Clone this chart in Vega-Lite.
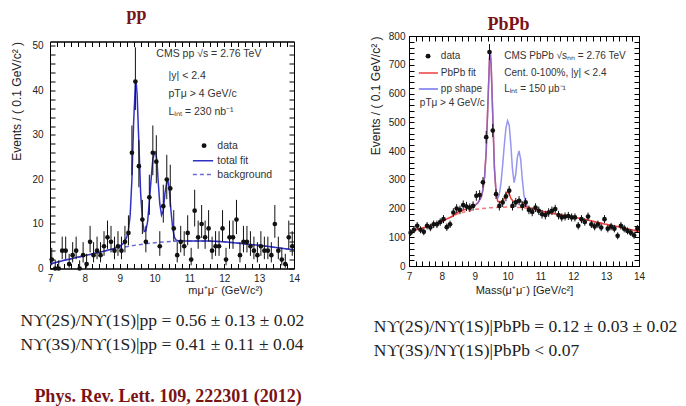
{
  "$schema": "https://vega.github.io/schema/vega-lite/v6.json",
  "background": "white",
  "padding": {"left": 10, "top": 4, "right": 0, "bottom": 0},
  "config": {
    "view": {"stroke": "black", "strokeWidth": 1},
    "font": "Liberation Sans",
    "axis": {"grid": false, "domainColor": "black", "tickColor": "black", "labelColor": "#222", "titleColor": "#222", "labelFont": "Liberation Sans", "titleFont": "Liberation Sans", "labelFontSize": 10, "titleFontSize": 12, "titleFontWeight": "normal", "labelFlush": false, "labelOverlap": false, "tickSize": -5, "tickWidth": 1}
  },
  "title": {"text": "Phys. Rev. Lett. 109, 222301 (2012)", "orient": "bottom", "anchor": "start", "font": "Liberation Serif", "fontSize": 18, "fontWeight": "bold", "color": "#7a1414", "offset": 29, "dx": 24},
  "resolve": {"scale": {"color": "independent", "strokeDash": "independent"}},
  "datasets": {
    "ppData": [
      {"x":7.05,"y":2,"lo":0.71,"hi":4.64},{"x":7.15,"y":0,"lo":0,"hi":1.84},{"x":7.25,"y":0,"lo":0,"hi":1.84},{"x":7.35,"y":4,"lo":2.09,"hi":7.16},{"x":7.45,"y":4,"lo":2.09,"hi":7.16},
      {"x":7.55,"y":1,"lo":0.17,"hi":3.3},{"x":7.65,"y":3,"lo":1.37,"hi":5.92},{"x":7.75,"y":4,"lo":2.09,"hi":7.16},{"x":7.85,"y":0,"lo":0,"hi":1.84},{"x":7.95,"y":3,"lo":1.37,"hi":5.92},
      {"x":8.05,"y":1,"lo":0.17,"hi":3.3},{"x":8.15,"y":6,"lo":3.62,"hi":9.58},{"x":8.25,"y":3,"lo":1.37,"hi":5.92},{"x":8.35,"y":4,"lo":2.09,"hi":7.16},{"x":8.45,"y":3,"lo":1.37,"hi":5.92},
      {"x":8.55,"y":5,"lo":2.84,"hi":8.38},{"x":8.65,"y":7,"lo":4.42,"hi":10.77},{"x":8.75,"y":6,"lo":3.62,"hi":9.58},{"x":8.85,"y":4,"lo":2.09,"hi":7.16},{"x":8.95,"y":5,"lo":2.84,"hi":8.38},
      {"x":9.05,"y":4,"lo":2.09,"hi":7.16},{"x":9.15,"y":6,"lo":3.62,"hi":9.58},{"x":9.25,"y":8,"lo":5.23,"hi":11.95},{"x":9.35,"y":26,"lo":20.96,"hi":32.13},{"x":9.45,"y":42,"lo":35.6,"hi":49.7},
      {"x":9.55,"y":23,"lo":18.24,"hi":28.84},{"x":9.65,"y":11,"lo":7.73,"hi":15.42},{"x":9.75,"y":6,"lo":3.62,"hi":9.58},{"x":9.85,"y":16,"lo":12.05,"hi":21.08},{"x":9.95,"y":26,"lo":20.96,"hi":32.13},
      {"x":10.05,"y":24,"lo":19.14,"hi":29.94},{"x":10.15,"y":5,"lo":2.84,"hi":8.38},{"x":10.25,"y":14,"lo":10.3,"hi":18.83},{"x":10.35,"y":20,"lo":15.57,"hi":25.54},{"x":10.45,"y":18,"lo":13.8,"hi":23.31},
      {"x":10.55,"y":9,"lo":6.06,"hi":13.11},{"x":10.65,"y":3,"lo":1.37,"hi":5.92},{"x":10.75,"y":6,"lo":3.62,"hi":9.58},{"x":10.85,"y":5,"lo":2.84,"hi":8.38},{"x":10.95,"y":8,"lo":5.23,"hi":11.95},
      {"x":11.05,"y":2,"lo":0.71,"hi":4.64},{"x":11.15,"y":13,"lo":9.44,"hi":17.7},{"x":11.25,"y":7,"lo":4.42,"hi":10.77},{"x":11.35,"y":10,"lo":6.89,"hi":14.27},{"x":11.45,"y":7,"lo":4.42,"hi":10.77},
      {"x":11.55,"y":9,"lo":6.06,"hi":13.11},{"x":11.65,"y":4,"lo":2.09,"hi":7.16},{"x":11.75,"y":5,"lo":2.84,"hi":8.38},{"x":11.85,"y":5,"lo":2.84,"hi":8.38},{"x":11.95,"y":9,"lo":6.06,"hi":13.11},
      {"x":12.05,"y":2,"lo":0.71,"hi":4.64},{"x":12.15,"y":7,"lo":4.42,"hi":10.77},{"x":12.25,"y":7,"lo":4.42,"hi":10.77},{"x":12.35,"y":11,"lo":7.73,"hi":15.42},{"x":12.45,"y":3,"lo":1.37,"hi":5.92},
      {"x":12.55,"y":6,"lo":3.62,"hi":9.58},{"x":12.65,"y":6,"lo":3.62,"hi":9.58},{"x":12.75,"y":5,"lo":2.84,"hi":8.38},{"x":12.85,"y":4,"lo":2.09,"hi":7.16},{"x":12.95,"y":3,"lo":1.37,"hi":5.92},
      {"x":13.05,"y":5,"lo":2.84,"hi":8.38},{"x":13.15,"y":4,"lo":2.09,"hi":7.16},{"x":13.25,"y":4,"lo":2.09,"hi":7.16},{"x":13.35,"y":3,"lo":1.37,"hi":5.92},{"x":13.45,"y":10,"lo":6.89,"hi":14.27},
      {"x":13.55,"y":4,"lo":2.09,"hi":7.16},{"x":13.65,"y":2,"lo":0.71,"hi":4.64},{"x":13.75,"y":1,"lo":0.17,"hi":3.3},{"x":13.85,"y":7,"lo":4.42,"hi":10.77},{"x":13.95,"y":5,"lo":2.84,"hi":8.38}
    ],
    "ppCurve": [
      {"s":"background","x":7.0,"y":1.0},{"s":"background","x":7.5,"y":2.0},{"s":"background","x":8.0,"y":2.9},{"s":"background","x":8.5,"y":3.8},{"s":"background","x":9.0,"y":4.6},{"s":"background","x":9.5,"y":5.3},{"s":"background","x":10.0,"y":5.8},{"s":"background","x":10.5,"y":6.1},{"s":"background","x":11.0,"y":6.2},{"s":"background","x":11.5,"y":6.2},{"s":"background","x":12.0,"y":6.0},{"s":"background","x":12.5,"y":5.6},{"s":"background","x":13.0,"y":5.2},{"s":"background","x":13.5,"y":4.7},{"s":"background","x":14.0,"y":4.2},
      {"s":"total fit","x":7.0,"y":1.0},{"s":"total fit","x":7.5,"y":2.0},{"s":"total fit","x":8.0,"y":2.9},{"s":"total fit","x":8.5,"y":3.8},{"s":"total fit","x":8.8,"y":4.4},{"s":"total fit","x":9.0,"y":5.0},{"s":"total fit","x":9.1,"y":5.6},{"s":"total fit","x":9.2,"y":7.0},{"s":"total fit","x":9.25,"y":8.5},{"s":"total fit","x":9.3,"y":12},{"s":"total fit","x":9.35,"y":20},{"s":"total fit","x":9.4,"y":33},{"s":"total fit","x":9.45,"y":41.5},{"s":"total fit","x":9.47,"y":42},{"s":"total fit","x":9.5,"y":39},{"s":"total fit","x":9.55,"y":28},{"s":"total fit","x":9.6,"y":17},{"s":"total fit","x":9.65,"y":11},{"s":"total fit","x":9.7,"y":8.3},{"s":"total fit","x":9.75,"y":8.5},{"s":"total fit","x":9.8,"y":10.5},{"s":"total fit","x":9.85,"y":15},{"s":"total fit","x":9.9,"y":20},{"s":"total fit","x":9.95,"y":24.5},{"s":"total fit","x":10.0,"y":26},{"s":"total fit","x":10.03,"y":26.2},{"s":"total fit","x":10.07,"y":24},{"s":"total fit","x":10.1,"y":20},{"s":"total fit","x":10.15,"y":14.5},{"s":"total fit","x":10.2,"y":12},{"s":"total fit","x":10.25,"y":13},{"s":"total fit","x":10.3,"y":17},{"s":"total fit","x":10.35,"y":19.5},{"s":"total fit","x":10.38,"y":19.8},{"s":"total fit","x":10.42,"y":18},{"s":"total fit","x":10.47,"y":13},{"s":"total fit","x":10.52,"y":9},{"s":"total fit","x":10.57,"y":7},{"s":"total fit","x":10.62,"y":6.4},{"s":"total fit","x":10.7,"y":6.2},{"s":"total fit","x":11.0,"y":6.2},{"s":"total fit","x":11.5,"y":6.2},{"s":"total fit","x":12.0,"y":6.0},{"s":"total fit","x":12.5,"y":5.6},{"s":"total fit","x":13.0,"y":5.2},{"s":"total fit","x":13.5,"y":4.7},{"s":"total fit","x":14.0,"y":4.2}
    ],
    "ppText": [
      {"x":10.05,"y":48.2,"t":"CMS pp √s = 2.76 TeV"},
      {"x":10.4,"y":43.3,"t":"|y| < 2.4"},
      {"x":10.4,"y":39.2,"t":"pTμ > 4 GeV/c"},
      {"x":10.4,"y":35.2,"t":"Lᵢₙₜ = 230 nb⁻¹"},
      {"x":11.8,"y":27.6,"t":"data"},
      {"x":11.8,"y":24.2,"t":"total fit"},
      {"x":11.8,"y":21.1,"t":"background"}
    ],
    "ppLegLine": [
      {"s":"total fit","x":11.1,"x2":11.68,"y":24.2},
      {"s":"background","x":11.1,"x2":11.68,"y":21.1}
    ],
    "ppLegPt": [{"x":11.42,"y":27.6}],
    "pbData": [
      {"x":7.05,"y":116,"e":12},{"x":7.15,"y":126,"e":12},{"x":7.25,"y":140,"e":13},{"x":7.35,"y":126,"e":12},{"x":7.45,"y":119,"e":12},
      {"x":7.55,"y":140,"e":13},{"x":7.65,"y":134,"e":13},{"x":7.75,"y":145,"e":13},{"x":7.85,"y":145,"e":13},{"x":7.95,"y":153,"e":13},
      {"x":8.05,"y":163,"e":14},{"x":8.15,"y":135,"e":13},{"x":8.25,"y":145,"e":13},{"x":8.35,"y":186,"e":15},{"x":8.45,"y":200,"e":15},
      {"x":8.55,"y":195,"e":15},{"x":8.65,"y":212,"e":16},{"x":8.75,"y":207,"e":16},{"x":8.85,"y":203,"e":15},{"x":8.95,"y":209,"e":16},
      {"x":9.05,"y":244,"e":17},{"x":9.15,"y":247,"e":17},{"x":9.25,"y":291,"e":18},{"x":9.35,"y":448,"e":22},{"x":9.45,"y":744,"e":28},
      {"x":9.55,"y":471,"e":23},{"x":9.65,"y":250,"e":17},{"x":9.75,"y":209,"e":16},{"x":9.85,"y":221,"e":16},{"x":9.95,"y":242,"e":17},
      {"x":10.05,"y":262,"e":17},{"x":10.15,"y":209,"e":16},{"x":10.25,"y":221,"e":16},{"x":10.35,"y":227,"e":16},{"x":10.45,"y":209,"e":16},
      {"x":10.55,"y":221,"e":16},{"x":10.65,"y":195,"e":15},{"x":10.75,"y":188,"e":15},{"x":10.85,"y":203,"e":15},{"x":10.95,"y":192,"e":15},
      {"x":11.05,"y":180,"e":15},{"x":11.15,"y":177,"e":15},{"x":11.25,"y":186,"e":15},{"x":11.35,"y":192,"e":15},{"x":11.45,"y":198,"e":15},
      {"x":11.55,"y":177,"e":15},{"x":11.65,"y":169,"e":14},{"x":11.75,"y":172,"e":14},{"x":11.85,"y":174,"e":14},{"x":11.95,"y":169,"e":14},
      {"x":12.05,"y":169,"e":14},{"x":12.15,"y":140,"e":13},{"x":12.25,"y":163,"e":14},{"x":12.35,"y":153,"e":13},{"x":12.45,"y":172,"e":14},
      {"x":12.55,"y":145,"e":13},{"x":12.65,"y":137,"e":13},{"x":12.75,"y":145,"e":13},{"x":12.85,"y":134,"e":13},{"x":12.95,"y":163,"e":14},
      {"x":13.05,"y":130,"e":13},{"x":13.15,"y":137,"e":13},{"x":13.25,"y":130,"e":13},{"x":13.35,"y":105,"e":12},{"x":13.45,"y":140,"e":13},
      {"x":13.55,"y":130,"e":13},{"x":13.65,"y":122,"e":12},{"x":13.75,"y":116,"e":12},{"x":13.85,"y":107,"e":12},{"x":13.95,"y":130,"e":13}
    ],
    "pbCurve": [
      {"s":"background","x":7.0,"y":120},{"s":"background","x":7.5,"y":135},{"s":"background","x":8.0,"y":155},{"s":"background","x":8.5,"y":182},{"s":"background","x":9.0,"y":197},{"s":"background","x":9.5,"y":203},{"s":"background","x":10.0,"y":205},{"s":"background","x":10.5,"y":203},{"s":"background","x":11.0,"y":192},{"s":"background","x":11.5,"y":180},{"s":"background","x":12.0,"y":170},{"s":"background","x":12.5,"y":158},{"s":"background","x":13.0,"y":145},{"s":"background","x":13.5,"y":133},{"s":"background","x":14.0,"y":120},
      {"s":"PbPb fit","x":7.0,"y":120},{"s":"PbPb fit","x":7.5,"y":135},{"s":"PbPb fit","x":8.0,"y":155},{"s":"PbPb fit","x":8.3,"y":172},{"s":"PbPb fit","x":8.5,"y":188},{"s":"PbPb fit","x":8.8,"y":200},{"s":"PbPb fit","x":9.0,"y":210},{"s":"PbPb fit","x":9.1,"y":220},{"s":"PbPb fit","x":9.2,"y":240},{"s":"PbPb fit","x":9.25,"y":265},{"s":"PbPb fit","x":9.3,"y":310},{"s":"PbPb fit","x":9.35,"y":400},{"s":"PbPb fit","x":9.4,"y":560},{"s":"PbPb fit","x":9.45,"y":720},{"s":"PbPb fit","x":9.47,"y":750},{"s":"PbPb fit","x":9.5,"y":700},{"s":"PbPb fit","x":9.55,"y":520},{"s":"PbPb fit","x":9.6,"y":340},{"s":"PbPb fit","x":9.65,"y":255},{"s":"PbPb fit","x":9.7,"y":225},{"s":"PbPb fit","x":9.8,"y":222},{"s":"PbPb fit","x":9.9,"y":235},{"s":"PbPb fit","x":9.95,"y":250},{"s":"PbPb fit","x":10.0,"y":258},{"s":"PbPb fit","x":10.05,"y":252},{"s":"PbPb fit","x":10.1,"y":235},{"s":"PbPb fit","x":10.2,"y":222},{"s":"PbPb fit","x":10.3,"y":228},{"s":"PbPb fit","x":10.35,"y":230},{"s":"PbPb fit","x":10.4,"y":225},{"s":"PbPb fit","x":10.5,"y":212},{"s":"PbPb fit","x":10.6,"y":205},{"s":"PbPb fit","x":11.0,"y":192},{"s":"PbPb fit","x":11.5,"y":180},{"s":"PbPb fit","x":12.0,"y":170},{"s":"PbPb fit","x":12.5,"y":158},{"s":"PbPb fit","x":13.0,"y":145},{"s":"PbPb fit","x":13.5,"y":133},{"s":"PbPb fit","x":14.0,"y":120},
      {"s":"pp shape","x":9.0,"y":210},{"s":"pp shape","x":9.1,"y":220},{"s":"pp shape","x":9.2,"y":240},{"s":"pp shape","x":9.25,"y":265},{"s":"pp shape","x":9.3,"y":310},{"s":"pp shape","x":9.35,"y":400},{"s":"pp shape","x":9.4,"y":560},{"s":"pp shape","x":9.45,"y":720},{"s":"pp shape","x":9.47,"y":750},{"s":"pp shape","x":9.5,"y":700},{"s":"pp shape","x":9.55,"y":520},{"s":"pp shape","x":9.6,"y":340},{"s":"pp shape","x":9.65,"y":255},{"s":"pp shape","x":9.7,"y":235},{"s":"pp shape","x":9.75,"y":250},{"s":"pp shape","x":9.8,"y":290},{"s":"pp shape","x":9.85,"y":350},{"s":"pp shape","x":9.9,"y":420},{"s":"pp shape","x":9.95,"y":480},{"s":"pp shape","x":10.0,"y":505},{"s":"pp shape","x":10.05,"y":490},{"s":"pp shape","x":10.1,"y":420},{"s":"pp shape","x":10.15,"y":335},{"s":"pp shape","x":10.2,"y":290},{"s":"pp shape","x":10.25,"y":320},{"s":"pp shape","x":10.3,"y":380},{"s":"pp shape","x":10.35,"y":400},{"s":"pp shape","x":10.4,"y":370},{"s":"pp shape","x":10.45,"y":300},{"s":"pp shape","x":10.5,"y":245},{"s":"pp shape","x":10.55,"y":220},{"s":"pp shape","x":10.6,"y":207}
    ],
    "pbText": [
      {"x":9.9,"y":730,"t":"CMS PbPb √sₙₙ = 2.76 TeV"},
      {"x":9.9,"y":671,"t":"Cent. 0-100%, |y| < 2.4"},
      {"x":9.9,"y":616,"t":"Lᵢₙₜ = 150 μb⁻¹"},
      {"x":7.97,"y":730,"t":"data"},
      {"x":7.97,"y":671,"t":"PbPb fit"},
      {"x":7.97,"y":616,"t":"pp shape"},
      {"x":7.33,"y":567,"t":"pTμ > 4 GeV/c"}
    ],
    "pbLegLine": [
      {"s":"PbPb fit","x":7.3,"x2":7.88,"y":671},
      {"s":"pp shape","x":7.3,"x2":7.88,"y":616}
    ],
    "pbLegPt": [{"x":7.58,"y":730}]
  },
  "spacing": 63,
  "center": true,
  "hconcat": [
    {
      "title": {"text": ["Nϒ(2S)/Nϒ(1S)|pp = 0.56 ± 0.13 ± 0.02", "Nϒ(3S)/Nϒ(1S)|pp = 0.41 ± 0.11 ± 0.04"], "orient": "bottom", "anchor": "start", "frame": "bounds", "font": "Liberation Serif", "fontSize": 17.5, "fontWeight": "normal", "color": "#222", "lineHeight": 24, "offset": 16, "dx": 10},
      "vconcat": [
        {
          "width": 244, "height": 227,
          "resolve": {"axis": {"x": "independent", "y": "independent"}},
          "layer": [
            {"data": {"name": "ppCurve"}, "mark": {"type": "line", "strokeWidth": 1.5, "clip": true},
              "encoding": {
                "x": {"field": "x", "type": "quantitative", "scale": {"domain": [7, 14], "nice": false, "zero": false},
                  "axis": {"title": "mμ⁺μ⁻ (GeV/c²)", "titleFontSize": 11, "titleAnchor": "middle", "titleX": 175, "titlePadding": 1,
                    "values": [7,7.2,7.4,7.6,7.8,8,8.2,8.4,8.6,8.8,9,9.2,9.4,9.6,9.8,10,10.2,10.4,10.6,10.8,11,11.2,11.4,11.6,11.8,12,12.2,12.4,12.6,12.8,13,13.2,13.4,13.6,13.8,14],
                    "labelExpr": "datum.value % 1 === 0 ? format(datum.value, 'd') : ''",
                    "labelPadding": 10}},
                "y": {"field": "y", "type": "quantitative", "scale": {"domain": [0, 51], "nice": false, "zero": false},
                  "axis": {"title": "Events / ( 0.1 GeV/c² )", "titleAnchor": "end", "titlePadding": 8,
                    "values": [0,2,4,6,8,10,12,14,16,18,20,22,24,26,28,30,32,34,36,38,40,42,44,46,48,50],
                    "labelExpr": "datum.value % 10 === 0 ? format(datum.value, 'd') : ''",
                    "labelPadding": 12}},
                "color": {"field": "s", "type": "nominal", "scale": {"domain": ["background", "total fit"], "range": ["#6b6bdc", "#3030c4"]}, "legend": null},
                "strokeDash": {"field": "s", "type": "nominal", "scale": {"domain": ["background", "total fit"], "range": [[4, 3], [1, 0]]}, "legend": null}}},
            {"data": {"name": "ppData"}, "mark": {"type": "rule", "color": "#111", "strokeWidth": 1},
              "encoding": {"x": {"field": "x", "type": "quantitative", "axis": null}, "y": {"field": "lo", "type": "quantitative", "axis": null}, "y2": {"field": "hi"}}},
            {"data": {"name": "ppData"}, "mark": {"type": "point", "filled": true, "color": "#111", "size": 22, "opacity": 1},
              "encoding": {"x": {"field": "x", "type": "quantitative", "axis": null}, "y": {"field": "y", "type": "quantitative", "axis": null}}},
            {"data": {"name": "ppLegLine"}, "mark": {"type": "rule", "strokeWidth": 1.5},
              "encoding": {"x": {"field": "x", "type": "quantitative", "axis": null}, "x2": {"field": "x2"}, "y": {"field": "y", "type": "quantitative", "axis": null},
                "color": {"field": "s", "type": "nominal", "legend": null}, "strokeDash": {"field": "s", "type": "nominal", "legend": null}}},
            {"data": {"name": "ppLegPt"}, "mark": {"type": "point", "filled": true, "color": "#111", "size": 24, "opacity": 1},
              "encoding": {
                "x": {"field": "x", "type": "quantitative", "axis": {"orient": "top", "labels": false, "title": "pp", "titleFont": "Liberation Serif", "titleFontSize": 18, "titleFontWeight": "bold", "titleColor": "#7a1414", "titleX": 86, "titleAlign": "center", "titlePadding": 18,
                  "values": [7,7.2,7.4,7.6,7.8,8,8.2,8.4,8.6,8.8,9,9.2,9.4,9.6,9.8,10,10.2,10.4,10.6,10.8,11,11.2,11.4,11.6,11.8,12,12.2,12.4,12.6,12.8,13,13.2,13.4,13.6,13.8,14]}},
                "y": {"field": "y", "type": "quantitative", "axis": {"orient": "right", "labels": false, "title": null,
                  "values": [0,2,4,6,8,10,12,14,16,18,20,22,24,26,28,30,32,34,36,38,40,42,44,46,48,50]}}}},
            {"data": {"name": "ppText"}, "mark": {"type": "text", "align": "left", "baseline": "middle", "fontSize": 10.5, "color": "#333", "font": "Liberation Sans"},
              "encoding": {"x": {"field": "x", "type": "quantitative", "axis": null}, "y": {"field": "y", "type": "quantitative", "axis": null}, "text": {"field": "t"}}}
          ]
        }
      ]
    },
    {
      "title": {"text": ["Nϒ(2S)/Nϒ(1S)|PbPb = 0.12 ± 0.03 ± 0.02", "Nϒ(3S)/Nϒ(1S)|PbPb < 0.07"], "orient": "bottom", "anchor": "start", "frame": "bounds", "font": "Liberation Serif", "fontSize": 17.5, "fontWeight": "normal", "color": "#222", "lineHeight": 24, "offset": 22, "dx": 5},
      "vconcat": [
        {
          "width": 230, "height": 230,
          "resolve": {"axis": {"x": "independent", "y": "independent"}},
          "layer": [
            {"data": {"name": "pbCurve"}, "transform": [{"filter": "datum.s !== 'pp shape'"}], "mark": {"type": "line", "strokeWidth": 1.5, "clip": true},
              "encoding": {
                "x": {"field": "x", "type": "quantitative", "scale": {"domain": [7, 14], "nice": false, "zero": false},
                  "axis": {"title": "Mass(μ⁺μ⁻) [GeV/c²]", "titleFontSize": 11, "titlePadding": 3,
                    "values": [7,7.2,7.4,7.6,7.8,8,8.2,8.4,8.6,8.8,9,9.2,9.4,9.6,9.8,10,10.2,10.4,10.6,10.8,11,11.2,11.4,11.6,11.8,12,12.2,12.4,12.6,12.8,13,13.2,13.4,13.6,13.8,14],
                    "labelExpr": "datum.value % 1 === 0 ? format(datum.value, 'd') : ''",
                    "labelPadding": 10}},
                "y": {"field": "y", "type": "quantitative", "scale": {"domain": [0, 800], "nice": false, "zero": false},
                  "axis": {"title": "Events / ( 0.1 GeV/c² )", "titleAnchor": "end", "titlePadding": 6,
                    "values": [0,20,40,60,80,100,120,140,160,180,200,220,240,260,280,300,320,340,360,380,400,420,440,460,480,500,520,540,560,580,600,620,640,660,680,700,720,740,760,780,800],
                    "labelExpr": "datum.value % 100 === 0 ? format(datum.value, 'd') : ''",
                    "labelPadding": 9}},
                "color": {"field": "s", "type": "nominal", "scale": {"domain": ["background", "PbPb fit", "pp shape"], "range": ["#f07878", "#ee3b3b", "#7272ee"]}, "legend": null},
                "strokeDash": {"field": "s", "type": "nominal", "scale": {"domain": ["background", "PbPb fit", "pp shape"], "range": [[4, 3], [1, 0], [1, 0]]}, "legend": null}}},
            {"data": {"name": "pbCurve"}, "transform": [{"filter": "datum.s === 'pp shape'"}], "mark": {"type": "line", "strokeWidth": 1.5, "clip": true, "opacity": 0.75},
              "encoding": {"x": {"field": "x", "type": "quantitative", "axis": null}, "y": {"field": "y", "type": "quantitative", "axis": null},
                "color": {"field": "s", "type": "nominal", "legend": null}, "strokeDash": {"field": "s", "type": "nominal", "legend": null}}},
            {"data": {"name": "pbData"}, "mark": {"type": "errorbar", "color": "#111", "thickness": 1},
              "encoding": {"x": {"field": "x", "type": "quantitative", "axis": null}, "y": {"field": "y", "type": "quantitative", "axis": null}, "yError": {"field": "e"}}},
            {"data": {"name": "pbData"}, "mark": {"type": "point", "filled": true, "color": "#111", "size": 22, "opacity": 1},
              "encoding": {"x": {"field": "x", "type": "quantitative", "axis": null}, "y": {"field": "y", "type": "quantitative", "axis": null}}},
            {"data": {"name": "pbLegLine"}, "mark": {"type": "rule", "strokeWidth": 1.5},
              "encoding": {"x": {"field": "x", "type": "quantitative", "axis": null}, "x2": {"field": "x2"}, "y": {"field": "y", "type": "quantitative", "axis": null},
                "color": {"field": "s", "type": "nominal", "legend": null}, "strokeDash": {"field": "s", "type": "nominal", "legend": null}}},
            {"data": {"name": "pbLegPt"}, "mark": {"type": "point", "filled": true, "color": "#111", "size": 24, "opacity": 1},
              "encoding": {
                "x": {"field": "x", "type": "quantitative", "axis": {"orient": "top", "labels": false, "title": "PbPb", "titleFont": "Liberation Serif", "titleFontSize": 18, "titleFontWeight": "bold", "titleColor": "#7a1414", "titleX": 99, "titleAlign": "center", "titlePadding": 2,
                  "values": [7,7.2,7.4,7.6,7.8,8,8.2,8.4,8.6,8.8,9,9.2,9.4,9.6,9.8,10,10.2,10.4,10.6,10.8,11,11.2,11.4,11.6,11.8,12,12.2,12.4,12.6,12.8,13,13.2,13.4,13.6,13.8,14]}},
                "y": {"field": "y", "type": "quantitative", "axis": {"orient": "right", "labels": false, "title": null,
                  "values": [0,20,40,60,80,100,120,140,160,180,200,220,240,260,280,300,320,340,360,380,400,420,440,460,480,500,520,540,560,580,600,620,640,660,680,700,720,740,760,780,800]}}}},
            {"data": {"name": "pbText"}, "mark": {"type": "text", "align": "left", "baseline": "middle", "fontSize": 10, "color": "#333", "font": "Liberation Sans"},
              "encoding": {"x": {"field": "x", "type": "quantitative", "axis": null}, "y": {"field": "y", "type": "quantitative", "axis": null}, "text": {"field": "t"}}}
          ]
        }
      ]
    }
  ]
}
